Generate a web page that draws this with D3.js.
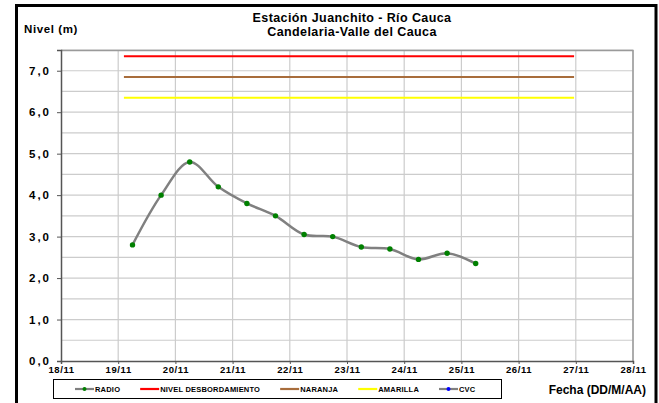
<!DOCTYPE html>
<html>
<head>
<meta charset="utf-8">
<script src="https://cdn.jsdelivr.net/npm/d3@7"></script>
<style>
  body { margin: 0; background: #fff; }
  svg { display: block; font-family: "Liberation Sans", Arial, sans-serif; }
</style>
</head>
<body>
<svg width="659" height="403"></svg>
<script>
// data (day of november, fractional part = time of day)
const radioDays = [19.25, 19.75, 20.25, 20.75, 21.25, 21.75, 22.25, 22.75, 23.25, 23.75, 24.25, 24.75, 25.25];
const radioLevels = [2.8, 4.0, 4.8, 4.2, 3.8, 3.5, 3.05, 3.0, 2.75, 2.7, 2.45, 2.6, 2.35];

const thresholdNames = ["NIVEL DESBORDAMIENTO", "NARANJA", "AMARILLA"];
const thresholdLevels = [7.35, 6.85, 6.35];
const thresholdColors = ["#ff0000", "#a86d3c", "#ffff00"];
const thresholdSpan = [19.1, 26.97];

const legendLabels = ["RADIO", "NIVEL DESBORDAMIENTO", "NARANJA", "AMARILLA", "CVC"];
const yTicks = [0, 1, 2, 3, 4, 5, 6, 7];
const xDayTicks = [18, 19, 20, 21, 22, 23, 24, 25, 26, 27, 28];

const nov1 = new Date(2010, 10, 1).getTime();
const toDate = d => new Date(nov1 + (d - 1) * 86400000);

const svg = d3.select("svg");

// outer frame
svg.append("rect")
  .attr("x", 16.5).attr("y", 5.5)
  .attr("width", 639.5).attr("height", 420)
  .attr("fill", "none").attr("stroke", "#000").attr("stroke-width", 3);

const margin = {left: 61, top: 50, right: 26, bottom: 42};
const w = 633 - margin.left, h = 361 - margin.top;

const g = svg.append("g").attr("transform", `translate(${margin.left},${margin.top})`);

const x = d3.scaleTime().domain([toDate(18), toDate(28)]).range([0, w]);
const y = d3.scaleLinear().domain([0, 7.5]).range([h, 0]);

// grid
g.append("g").selectAll("line")
  .data(d3.range(0.5, 7.51, 0.5))
  .join("line")
  .attr("x1", 0).attr("x2", w)
  .attr("y1", d => y(d)).attr("y2", d => y(d))
  .attr("stroke", "#cccccc").attr("stroke-width", 1.2);
g.append("g").selectAll("line")
  .data(xDayTicks.slice(1))
  .join("line")
  .attr("x1", d => x(toDate(d))).attr("x2", d => x(toDate(d)))
  .attr("y1", 0).attr("y2", h)
  .attr("stroke", "#cccccc").attr("stroke-width", 1.2);

// plot frame top / right
g.append("path")
  .attr("d", `M0,0.5H${w}V${h}`)
  .attr("fill", "none").attr("stroke", "#9a9a9a").attr("stroke-width", 1.5);

// thresholds
thresholdLevels.forEach((v, i) => {
  g.append("line")
    .attr("x1", x(toDate(thresholdSpan[0]))).attr("x2", x(toDate(thresholdSpan[1])))
    .attr("y1", y(v)).attr("y2", y(v))
    .attr("stroke", thresholdColors[i]).attr("stroke-width", 2);
});

// axes
const yAxis = g.append("g")
  .call(d3.axisLeft(y).tickValues(yTicks).tickSize(4).tickFormat(d => d3.format(".1f")(d).replace(".", ",")));
yAxis.select(".domain").attr("stroke", "#555").attr("stroke-width", 1.5);
yAxis.selectAll(".tick line").attr("stroke", "#555");
yAxis.selectAll("text").attr("font-size", 11.5).attr("font-weight", "bold").attr("fill", "#000")
  .attr("x", -10).attr("letter-spacing", 2);

const xAxis = g.append("g")
  .attr("transform", `translate(0,${h})`)
  .call(d3.axisBottom(x).tickValues(xDayTicks.map(toDate)).tickSize(3).tickFormat(d3.timeFormat("%d/%m")));
xAxis.select(".domain").attr("stroke", "#555").attr("stroke-width", 1.5);
xAxis.selectAll(".tick line").attr("stroke", "#555");
xAxis.selectAll("text").attr("font-size", 9.5).attr("font-weight", "bold").attr("fill", "#000")
  .attr("y", 5).attr("letter-spacing", 0.6);

// radio series
const pts = radioDays.map((d, i) => ({t: toDate(d), v: radioLevels[i]}));
const line = d3.line().x(d => x(d.t)).y(d => y(d.v)).curve(d3.curveCatmullRom.alpha(0.5));
g.append("path").datum(pts)
  .attr("d", line)
  .attr("fill", "none").attr("stroke", "#808080").attr("stroke-width", 2.5);
g.selectAll("circle.pt").data(pts).join("circle")
  .attr("class", "pt")
  .attr("cx", d => x(d.t)).attr("cy", d => y(d.v))
  .attr("r", 2.7).attr("fill", "#008000");

// titles
svg.append("text").attr("x", 352).attr("y", 22)
  .attr("text-anchor", "middle").attr("font-size", 12.5).attr("font-weight", "bold")
  .attr("letter-spacing", 0.4)
  .text("Estación Juanchito - Río Cauca");
svg.append("text").attr("x", 352).attr("y", 36)
  .attr("text-anchor", "middle").attr("font-size", 12.5).attr("font-weight", "bold")
  .attr("letter-spacing", 0.4)
  .text("Candelaria-Valle del Cauca");
svg.append("text").attr("x", 24).attr("y", 33)
  .attr("font-size", 11.5).attr("font-weight", "bold").attr("letter-spacing", 0.6)
  .text("Nivel (m)");
svg.append("text").attr("x", 646).attr("y", 394)
  .attr("text-anchor", "end").attr("font-size", 12).attr("font-weight", "bold")
  .text("Fecha (DD/M/AA)");

// legend
const legend = svg.append("g");
legend.append("rect")
  .attr("x", 53.5).attr("y", 379.5).attr("width", 448).attr("height", 19)
  .attr("fill", "#fff").attr("stroke", "#000").attr("stroke-width", 1);
const legendColors = ["#808080", ...thresholdColors, "#808080"];
const legendDots = ["#008000", null, null, null, "#0000ff"];
let lx = 75;
legendLabels.forEach((lab, i) => {
  legend.append("line")
    .attr("x1", lx).attr("x2", lx + 19).attr("y1", 389).attr("y2", 389)
    .attr("stroke", legendColors[i]).attr("stroke-width", 2.2);
  if (legendDots[i]) {
    legend.append("circle").attr("cx", lx + 9.5).attr("cy", 389).attr("r", 2)
      .attr("fill", legendDots[i]);
  }
  const t = legend.append("text")
    .attr("x", lx + 20).attr("y", 391.5)
    .attr("font-size", 7.5).attr("font-weight", "bold").attr("letter-spacing", 0.2)
    .text(lab);
  lx += 20 + t.node().getComputedTextLength() + 20;
});
</script>
</body>
</html>
